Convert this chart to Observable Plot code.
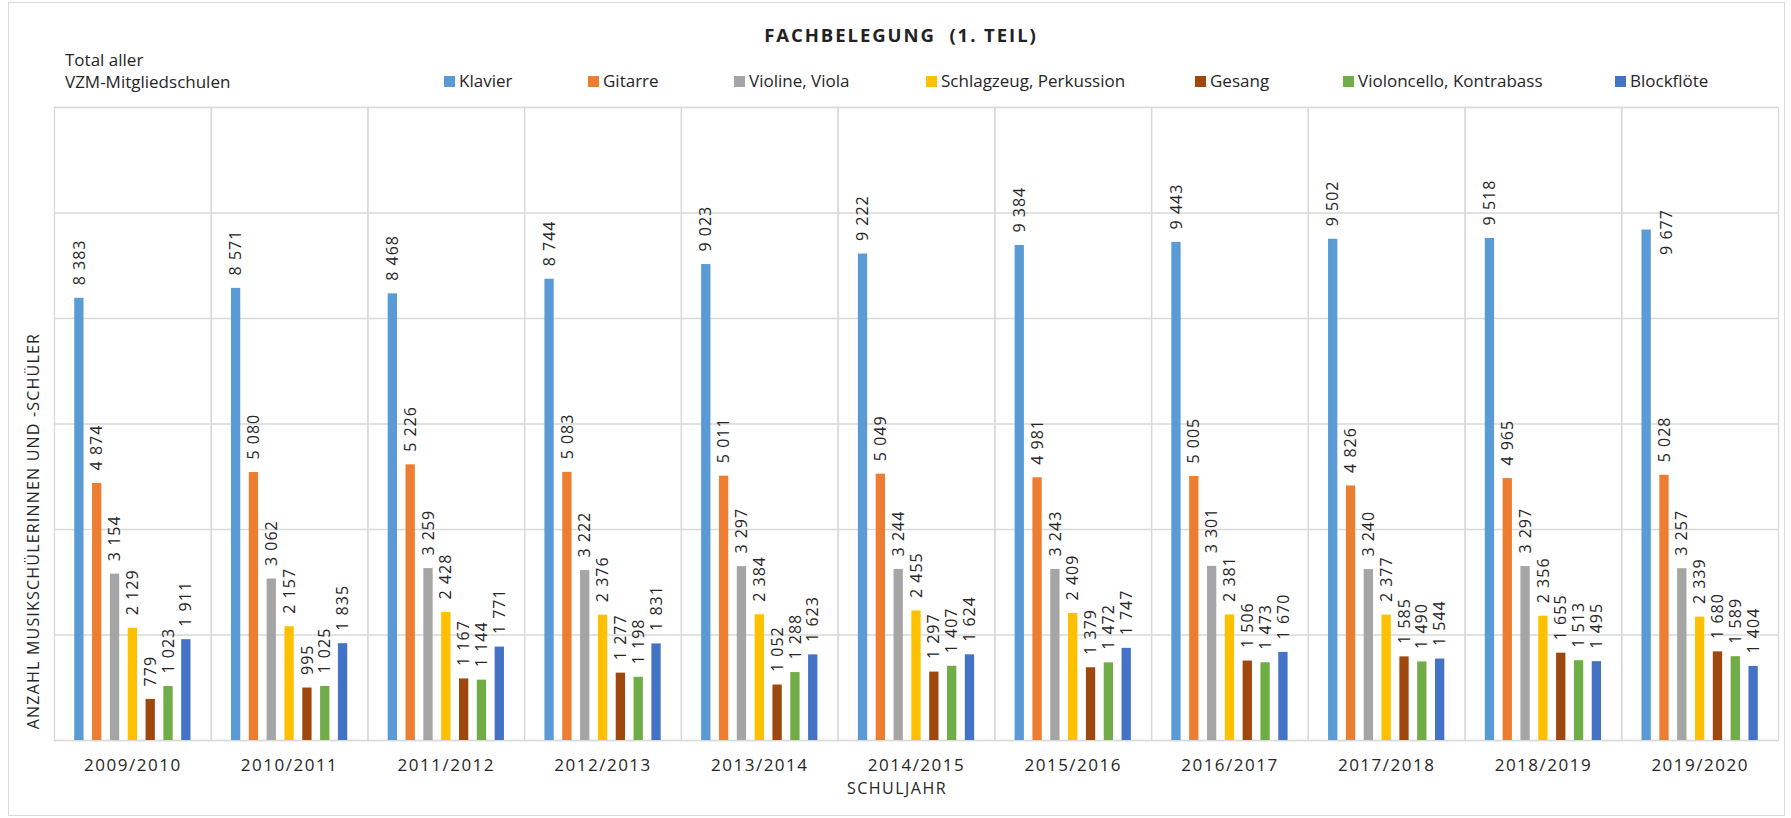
<!DOCTYPE html>
<html>
<head>
<meta charset="utf-8">
<script src="https://cdn.jsdelivr.net/npm/d3@7"></script>
<script src="https://cdn.jsdelivr.net/npm/@observablehq/plot@0.6"></script>
<style>
  html, body { margin: 0; padding: 0; background: #fff; }
  #wrap { position: relative; width: 1791px; height: 818px; font-family: "Open Sans", sans-serif; color: #222; overflow: hidden; }
  #border { position: absolute; left: 8px; top: 2px; width: 1777px; height: 814px; border: 1px solid #d9d9d9; box-sizing: border-box; }
  .abs { position: absolute; white-space: pre; line-height: 1; }
  #title { left: 401px; width: 1000px; top: 26px; text-align: center; font-weight: bold; font-size: 18.5px; letter-spacing: 1.95px; }
  .legsq { position: absolute; width: 11px; height: 11px; }
  .legtx { position: absolute; font-size: 17px; line-height: 1; white-space: pre; color: #262626; }
  #chart { position: absolute; left: 0; top: 95px; }
  #ytitle { left: -217px; top: 521px; width: 500px; height: 20px; line-height: 20px; text-align: center; font-size: 16px; letter-spacing: 1.2px; transform: rotate(-90deg); color: #262626; }
  #xtitle { left: 597px; width: 600px; top: 780px; text-align: center; font-size: 16px; letter-spacing: 1.5px; color: #262626; }
  #chart svg [aria-label="fx-axis tick label"] text { letter-spacing: 1.5px; }
  #chart svg g.vlabel text { letter-spacing: 1px; }
</style>
</head>
<body>
<div id="wrap">
  <div id="border"></div>
  <div id="title" class="abs">FACHBELEGUNG  (1. TEIL)</div>
  <div class="abs" style="left:65px; top:50.6px; font-size:17px; color:#262626;">Total aller</div>
  <div class="abs" style="left:65px; top:73.2px; font-size:17px; color:#262626;">VZM-Mitgliedschulen</div>
  <div id="legend"></div>
  <div id="chart"></div>
  <div id="ytitle" class="abs">ANZAHL MUSIKSCHÜLERINNEN UND -SCHÜLER</div>
  <div id="xtitle" class="abs">SCHULJAHR</div>
</div>
<script>
// ---- Data ----
const years = ["2009/2010","2010/2011","2011/2012","2012/2013","2013/2014","2014/2015","2015/2016","2016/2017","2017/2018","2018/2019","2019/2020"];
const series = ["Klavier","Gitarre","Violine, Viola","Schlagzeug, Perkussion","Gesang","Violoncello, Kontrabass","Blockflöte"];
const colors = ["#5B9BD5","#ED7D31","#A5A5A5","#FFC000","#9E480E","#70AD47","#4472C4"];

const klavier     = [8383, 8571, 8468, 8744, 9023, 9222, 9384, 9443, 9502, 9518, 9677];
const gitarre     = [4874, 5080, 5226, 5083, 5011, 5049, 4981, 5005, 4826, 4965, 5028];
const violine     = [3154, 3062, 3259, 3222, 3297, 3244, 3243, 3301, 3240, 3297, 3257];
const schlagzeug  = [2129, 2157, 2428, 2376, 2384, 2455, 2409, 2381, 2377, 2356, 2339];
const gesang      = [779, 995, 1167, 1277, 1052, 1297, 1379, 1506, 1585, 1655, 1680];
const violoncello = [1023, 1025, 1144, 1198, 1288, 1407, 1472, 1473, 1490, 1513, 1589];
const blockfloete = [1911, 1835, 1771, 1831, 1623, 1624, 1747, 1670, 1544, 1495, 1404];

const seriesValues = [klavier, gitarre, violine, schlagzeug, gesang, violoncello, blockfloete];
const table = years.flatMap((yr, i) => series.map((s, j) => ({year: yr, series: s, value: seriesValues[j][i]})));

const fmt = v => String(v).replace(/\B(?=(\d{3})+(?!\d))/g, " ");

// ---- Legend (HTML) ----
const legendX = [444, 588, 734, 926, 1195, 1343, 1615];
const leg = document.getElementById("legend");
series.forEach((s, i) => {
  const sq = document.createElement("div");
  sq.className = "legsq";
  sq.style.left = legendX[i] + "px";
  sq.style.top = "76px";
  sq.style.background = colors[i];
  leg.appendChild(sq);
  const tx = document.createElement("div");
  tx.className = "legtx";
  tx.style.left = (legendX[i] + 15) + "px";
  tx.style.top = "71.6px";
  tx.textContent = s;
  leg.appendChild(tx);
});

// ---- Chart ----
const isShifted = d => d.year === "2019/2020" && d.series === "Klavier";
const chart = Plot.plot({
  width: 1791,
  height: 723,
  marginTop: 12,
  marginBottom: 78,
  marginLeft: 54,
  marginRight: 13,
  style: {fontFamily: "Open Sans, sans-serif", color: "#262626", background: "transparent"},
  fx: {domain: years, padding: 0, round: false, label: null},
  x: {domain: series, paddingInner: 0.478, paddingOuter: 1.135, round: false, axis: null},
  y: {domain: [0, 12000], axis: null},
  color: {domain: series, range: colors},
  marks: [
    Plot.gridY(d3.range(0, 12001, 2000), {stroke: "#d9d9d9", strokeOpacity: 1, strokeWidth: 1.3}),
    Plot.frame({stroke: "#d9d9d9", strokeWidth: 1.3}),
    Plot.barY(table, {fx: "year", x: "series", y: "value", fill: "series"}),
    Plot.text(table.filter(d => !isShifted(d)), {
      fx: "year", x: "series", y: "value", text: d => fmt(d.value),
      rotate: -90, textAnchor: "start", dy: -13, fontSize: 16, fill: "#262626", className: "vlabel"
    }),
    Plot.text(table.filter(isShifted), {
      fx: "year", x: "series", y: "value", text: d => fmt(d.value),
      rotate: -90, textAnchor: "middle", dx: 20, dy: 2, fontSize: 16, fill: "#262626", className: "vlabel"
    }),
    Plot.axisFx({anchor: "bottom", tickSize: 0, tickPadding: 18, fontSize: 17, label: null, fill: "#262626"})
  ]
});
document.getElementById("chart").appendChild(chart);
</script>
</body>
</html>
